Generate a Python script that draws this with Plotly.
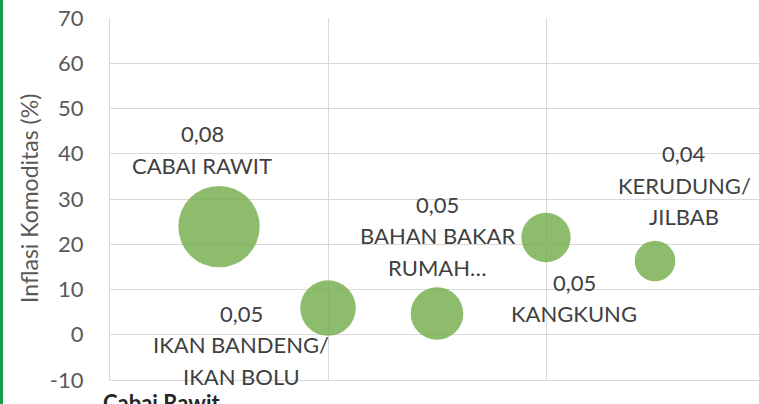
import plotly.graph_objects as go

# ---- data ----
categories = ["CABAI RAWIT", "IKAN BANDENG/\nIKAN BOLU", "BAHAN BAKAR\nRUMAH…", "KANGKUNG", "KERUDUNG/\nJILBAB"]
x_pos = [1, 2, 3, 4, 5]
inflasi = [23.9, 5.9, 4.7, 21.5, 16.3]
andil = [0.0800, 0.0546, 0.0517, 0.0485, 0.0399]
y_ticks = [-10, 0, 10, 20, 30, 40, 50, 60, 70]
y_ticktext = ["-10", "0", "10", "20", "30", "40", "50", "60", "70"]

# label offsets (px) relative to bubble centre: (dx, dy of first line, upward positive)
label_dx = [-17, -87, 0, 28, 29]
label_dy = [93, -5, 109, -45, 107]

FONT = "Lato"
TXT = "#404040"
AX = "#595959"
GRID = "#D9D9D9"

fig = go.Figure()
fig.add_trace(go.Scatter(
    x=x_pos, y=inflasi, mode="markers",
    marker=dict(size=andil, sizemode="diameter", sizeref=max(andil) / 81.4,
                color="#70AD47", opacity=0.8, line=dict(width=0)),
    hoverinfo="skip", showlegend=False,
))

LINE = 31.5
for xi, yi, cat, a, dx, dy in zip(x_pos, inflasi, categories, andil, label_dx, label_dy):
    lines = [f"{a:.2f}".replace(".", ",")] + cat.split("\n")
    for k, t in enumerate(lines):
        fig.add_annotation(x=xi, y=yi, xref="x", yref="y", text=t, showarrow=False,
                           xshift=dx, yshift=dy - k * LINE, xanchor="center", yanchor="middle",
                           font=dict(family=FONT, size=22, color=TXT))

# y axis title
fig.add_annotation(xref="paper", yref="paper", x=-81 / 649, y=0.5, text="Inflasi Komoditas (%)",
                   textangle=-90, showarrow=False, xanchor="center", yanchor="middle",
                   font=dict(family=FONT, size=23, color=AX))
# cut-off caption below
fig.add_annotation(xref="paper", yref="paper", x=-9 / 649, y=-7 / 362, text="<b>Cabai Rawit</b>",
                   showarrow=False, xanchor="left", yanchor="top",
                   font=dict(family=FONT, size=22, color="#262626"))

# green side bar
fig.add_shape(type="rect", xref="paper", yref="paper", x0=-110 / 649, x1=-107 / 649, y0=-0.2, y1=1.2,
              fillcolor="rgb(24,156,72)", line=dict(width=0), layer="above")

fig.update_layout(
    width=759, height=404, margin=dict(l=110, r=0, t=18, b=24),
    paper_bgcolor="white", plot_bgcolor="white",
    xaxis=dict(range=[0, 649 / 109], dtick=2, tick0=0, showticklabels=False, showgrid=True,
               gridcolor=GRID, gridwidth=1.3, zeroline=False, showline=True, linecolor=GRID, linewidth=1.3,
               mirror=False, ticks=""),
    yaxis=dict(range=[-10, 70], tickvals=y_ticks, ticktext=y_ticktext, showgrid=True, gridcolor=GRID,
               gridwidth=1.3, zeroline=False, showline=True, linecolor=GRID, linewidth=1.3, ticks="",
               ticklabelstandoff=21, tickfont=dict(family=FONT, size=22, color=AX)),
    hovermode=False,
)

fig.write_html("out.html", config={"displayModeBar": False},
               post_script="document.body.style.margin='0';document.body.style.overflow='hidden';")
